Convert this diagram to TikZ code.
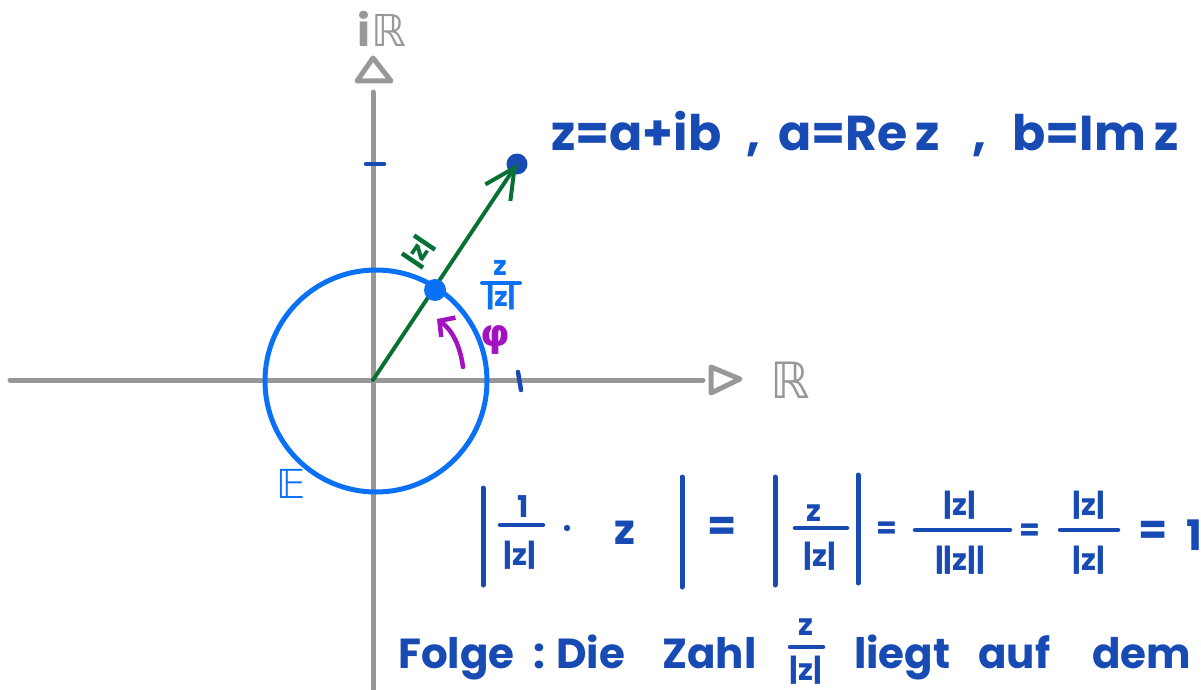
\documentclass[tikz,border=0pt]{standalone}
\usepackage{fontspec}
\usepackage{amssymb}
\setmainfont{Poppins}
\newfontfamily\dejavu{DejaVu Sans}
\usetikzlibrary{arrows.meta}
\definecolor{axisgray}{RGB}{152,152,152}
\definecolor{inkblue}{RGB}{24,74,180}
\definecolor{lightblue}{RGB}{10,112,245}
\definecolor{inkgreen}{RGB}{8,112,52}
\definecolor{inkpurple}{RGB}{162,18,192}
\begin{document}
\begin{tikzpicture}[x=1pt,y=-1pt,line cap=round,line join=round,
  axis/.style={draw=axisgray,line width=5pt},
  axlabel/.style={text=axisgray,inner sep=0pt},
  tick/.style={draw=inkblue,line width=4.5pt},
  ink/.style={text=inkblue,inner sep=0pt},
  big/.style={font=\fontsize{49}{58}\selectfont\bfseries},
  mid/.style={font=\fontsize{42}{50}\selectfont\bfseries},
  small/.style={font=\fontsize{30}{36}\selectfont\bfseries},
  absbar/.style={draw=inkblue,line width=5pt},
  fracbar/.style={draw=inkblue,line width=4.5pt},
  dot/.style={circle,inner sep=0pt}]
\useasboundingbox (0,0) rectangle (1201,690);
\clip (0,0) rectangle (1201,690);
% axes
\draw[axis] (10,380) -- (703,380);
\draw[axis] (373,690) -- (373,92);
\draw[axis] (373,58) -- (391,81) -- (357,81) -- cycle;
\draw[axis] (711,367) -- (711,393) -- (740,379) -- cycle;
\node[axlabel,font=\fontsize{44}{50}\selectfont\bfseries] (ilab) at (382,29) {i\kern1pt{\mdseries\dejavu ℝ}};
\node[axlabel,font=\dejavu\fontsize{50}{56}\selectfont] (rlab) at (790,380) {ℝ};
% ticks
\draw[tick] (366,164) -- (384,164);
\draw[tick] (518,372) -- (521,390);
% unit circle
\node[circle,draw=lightblue,line width=5pt,minimum size=222pt,inner sep=0pt] (E) at (376,381) {};
\node[text=lightblue,inner sep=0pt,font=\dejavu\fontsize{40}{46}\selectfont] (Elab) at (291,484) {𝔼};
% vector
\coordinate (O) at (373,380);
\node[dot,fill=inkblue,minimum size=21pt] (zpt) at (517,164) {};
\draw[inkgreen,line width=4pt,-{Straight Barb[length=30pt,width=30pt]}] (O) -- (zpt.center);
\node[dot,fill=lightblue,minimum size=22pt] (unit) at (435,290) {};
\node[text=inkgreen,inner sep=0pt,rotate=56,font=\fontsize{27}{30}\selectfont\bfseries] (abslab) at (419,252) {|z|};
% z/|z| label near unit point
\node[text=lightblue,inner sep=0pt,font=\fontsize{27}{30}\selectfont\bfseries] (uz) at (500,268) {z};
\draw[draw=lightblue,line width=4pt] (482,283) -- (520,283);
\node[text=lightblue,inner sep=0pt,font=\fontsize{27}{30}\selectfont\bfseries] (uabs) at (501,297) {|z|};
% angle
\coordinate (a1) at (463,367);
\coordinate (a2) at (437,319);
\draw[inkpurple,line width=4.5pt,-{Straight Barb[length=11pt,width=24pt]}] (a1) .. controls (460,345) and (452,330) .. (a2);
\node[text=inkpurple,inner sep=0pt,font=\dejavu\bfseries\fontsize{38}{44}\selectfont] (phi) at (495,340) {φ};
% top text
\node[ink,big,anchor=base west] (t1) at (551,150) {z=a+ib};
\node[ink,big,anchor=base west] (t2) at (746,150) {,};
\node[ink,big,anchor=base west] (t3) at (778,150) {a=Re\,z};
\node[ink,big,anchor=base west] (t4) at (972,150) {,};
\node[ink,big,anchor=base west] (t5) at (1012,150) {b=Im\,z};
% formula row
\draw[absbar] (483,488) -- (483,585);
\node[ink,small] (f1n) at (523,507) {1};
\draw[fracbar] (500,525) -- (543,525);
\node[ink,small] (f1d) at (520,555) {|z|};
\fill[inkblue] (567,528) circle (3.2pt);
\node[ink,mid] (fz) at (625,533) {z};
\draw[absbar] (682,477) -- (682,587);
\node[ink,mid] (eq1) at (722,529) {=};
\draw[absbar] (775,477) -- (775,585);
\node[ink,small] (f2n) at (814,513) {z};
\draw[fracbar] (795,528) -- (847,528);
\node[ink,small] (f2d) at (820,556) {|z|};
\draw[absbar] (858,475) -- (858,583);
\node[ink,small] (eq2) at (887,530) {=};
\node[ink,small] (f3n) at (960,505) {|z|};
\draw[fracbar] (915,530) -- (1010,530);
\node[ink,small] (f3d) at (960,560) {||z||};
\node[ink,small] (eq3) at (1030,532) {=};
\node[ink,small] (f4n) at (1089,505) {|z|};
\draw[fracbar] (1060,530) -- (1118,530);
\node[ink,small] (f4d) at (1089,560) {|z|};
\node[ink,mid] (eq4) at (1153,533) {=};
\node[ink,mid,anchor=west] (one) at (1186,535) {1};
% bottom sentence
\node[ink,mid,anchor=base west] (b1) at (398,668) {Folge};
\node[ink,mid,anchor=base west] (b2) at (533,668) {:};
\node[ink,mid,anchor=base west] (b3) at (556,668) {Die};
\node[ink,mid,anchor=base west] (b4) at (662,668) {Zahl};
\node[ink,small] (bn) at (806,627) {z};
\draw[fracbar] (790,647) -- (823,647);
\node[ink,small] (bd) at (806,670) {|z|};
\node[ink,mid,anchor=base west] (b5) at (854,668) {liegt};
\node[ink,mid,anchor=base west] (b6) at (978,668) {auf};
\node[ink,mid,anchor=base west] (b7) at (1092,668) {dem};
\end{tikzpicture}
\end{document}
